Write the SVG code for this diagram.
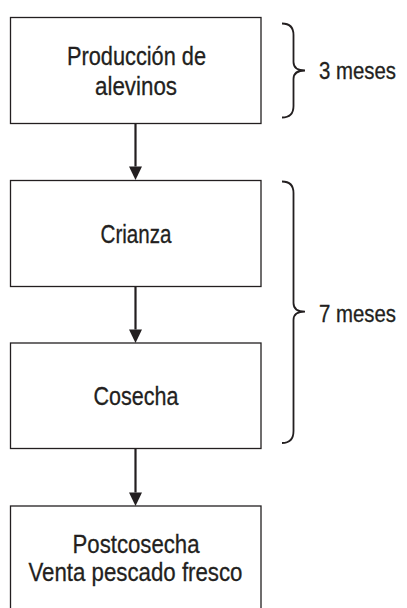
<svg xmlns="http://www.w3.org/2000/svg" width="407" height="608" viewBox="0 0 407 608">
<style>
.box{fill:#fff;stroke:#231f20;stroke-width:1.3}
.t{font-family:"Liberation Sans",Arial,sans-serif;font-size:26.5px;fill:#231f20;stroke:#231f20;stroke-width:0.3;text-anchor:middle}
.l{font-family:"Liberation Sans",Arial,sans-serif;font-size:23px;fill:#231f20;stroke:#231f20;stroke-width:0.3}
.conn{stroke:#231f20;stroke-width:2.2;fill:none}
.head{fill:#231f20}
.brace{stroke:#231f20;stroke-width:1.8;fill:none}
</style>
<rect width="407" height="608" fill="#fff"/>
<g id="connectors">
<path class="conn" d="M135.5,123.5 V166.5"/>
<path class="head" d="M129,166.5 H142 L135.5,180 Z"/>
<path class="conn" d="M135.5,286.5 V329.5"/>
<path class="head" d="M129,329.5 H142 L135.5,343 Z"/>
<path class="conn" d="M135.5,448.5 V492.5"/>
<path class="head" d="M129,492.5 H142 L135.5,506 Z"/>
</g>
<g id="n1">
<rect class="box" x="10.5" y="17.5" width="250.5" height="106"/>
<text class="t" x="136.5" y="65" textLength="139" lengthAdjust="spacingAndGlyphs">Producción de</text>
<text class="t" x="136" y="94.5" textLength="82" lengthAdjust="spacingAndGlyphs">alevinos</text>
</g>
<g id="n2">
<rect class="box" x="10.5" y="180.5" width="250.5" height="106"/>
<text class="t" x="136" y="242.5" textLength="71" lengthAdjust="spacingAndGlyphs">Crianza</text>
</g>
<g id="n3">
<rect class="box" x="10.5" y="343" width="250.5" height="105.5"/>
<text class="t" x="136" y="405" textLength="85" lengthAdjust="spacingAndGlyphs">Cosecha</text>
</g>
<g id="n4">
<rect class="box" x="10.5" y="506" width="250.5" height="110"/>
<text class="t" x="136" y="553" textLength="127" lengthAdjust="spacingAndGlyphs">Postcosecha</text>
<text class="t" x="135.5" y="581" textLength="214" lengthAdjust="spacingAndGlyphs">Venta pescado fresco</text>
</g>
<g id="brace1">
<path class="brace" d="M282,23.5 C289,23.5 293.5,27 293.5,35 L293.5,62 C293.5,67 297,70.5 305,70.5 C297,70.5 293.5,74 293.5,79 L293.5,106 C293.5,114 289,117.5 282,117.5"/>
<text class="l" x="319" y="79" textLength="77" lengthAdjust="spacingAndGlyphs">3 meses</text>
</g>
<g id="brace2">
<path class="brace" d="M282,181.5 C289,181.5 293.5,185 293.5,193 L293.5,303 C293.5,308 297,311.7 305,311.7 C297,311.7 293.5,315 293.5,320 L293.5,431 C293.5,439 289,443 282,443"/>
<text class="l" x="319" y="321.5" textLength="77" lengthAdjust="spacingAndGlyphs">7 meses</text>
</g>
</svg>
